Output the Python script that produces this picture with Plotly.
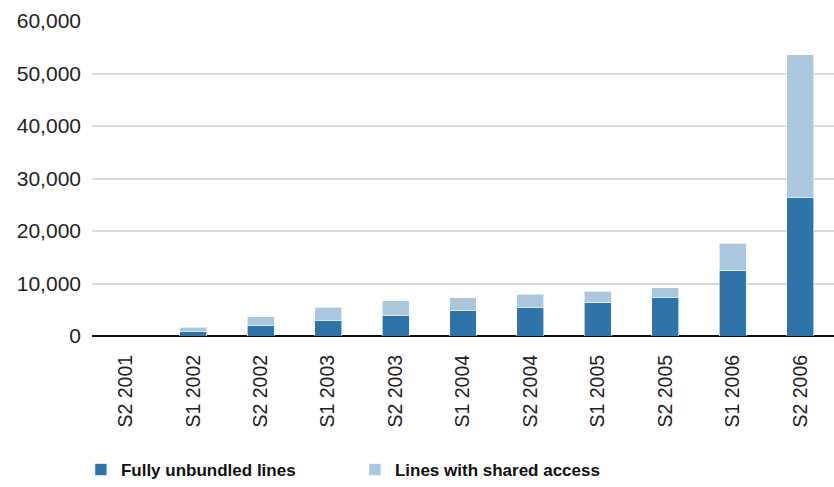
import plotly.graph_objects as go

periods = ["S2 2001", "S1 2002", "S2 2002", "S1 2003", "S2 2003", "S1 2004",
           "S2 2004", "S1 2005", "S2 2005", "S1 2006", "S2 2006"]
fully_unbundled = [0, 800, 2050, 3000, 3950, 4850, 5450, 6350, 7250, 12450, 26450]
shared_access = [0, 850, 1650, 2500, 2800, 2480, 2480, 2150, 1900, 5200, 27150]

DARK = "#2E74A9"
LIGHT = "#AAC7DD"
NARROW = "Liberation Sans Narrow, Arial Narrow, Liberation Sans, Arial, sans-serif"
REG = "Liberation Sans, Arial, sans-serif"

fig = go.Figure()
fig.add_trace(go.Bar(x=periods, y=fully_unbundled, name="Fully unbundled lines",
                     marker=dict(color=DARK, line=dict(color="rgba(255,255,255,0.6)", width=1))))
fig.add_trace(go.Bar(x=periods, y=shared_access, name="Lines with shared access",
                     marker=dict(color=LIGHT, line=dict(color="rgba(255,255,255,0.6)", width=1))))

fig.update_layout(
    barmode="stack",
    bargap=0.6,
    width=834, height=487,
    margin=dict(l=92, r=0, t=21, b=151, autoexpand=False),
    plot_bgcolor="white", paper_bgcolor="white",
    showlegend=True,
    legend=dict(orientation="h", x=0.097, xref="container", xanchor="left",
                y=0.035, yref="container", yanchor="middle",
                font=dict(family=NARROW, size=17, color="#111111", weight="bold"),
                entrywidth=229, entrywidthmode="pixels", traceorder="normal"),
    xaxis=dict(tickangle=-90, tickfont=dict(family=NARROW, size=19.5, color="#222222"),
               ticks="", ticklabelstandoff=14, showgrid=False,
               showline=False, automargin=False),
    yaxis=dict(range=[0, 60000], dtick=10000, tickformat=",d",
               tickfont=dict(family=REG, size=21, color="#222222"),
               showgrid=True, gridcolor="#D9D9D9", gridwidth=2,
               zeroline=True, zerolinecolor="#111111", zerolinewidth=2,
               ticks="", ticklabelstandoff=10, showline=False, automargin=False),
)

fig.write_html("out.html")
